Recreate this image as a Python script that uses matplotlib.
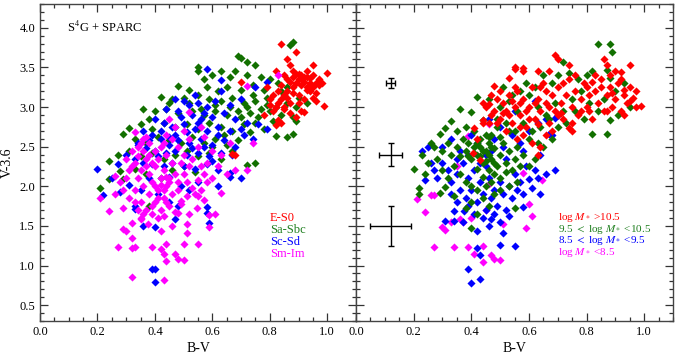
import matplotlib
matplotlib.use("Agg")
import matplotlib.pyplot as plt
from matplotlib.ticker import MultipleLocator

plt.rcParams['font.family'] = ['Liberation Serif', 'DejaVu Serif']
plt.rcParams['mathtext.fontset'] = 'stix'

# ---------------- left panel: morphological types ----------------
left_es0 = [(0.84,3.80),(0.89,3.70),(0.86,3.60),(0.87,3.53),(0.95,3.53),(0.82,3.45),(0.88,3.46),(1.00,3.43),
            (0.91,3.40),(0.93,3.38),(0.90,3.35),(0.92,3.32),(0.94,3.36),(0.96,3.30),(0.97,3.28),(0.95,3.25),
            (0.93,3.22),(0.91,3.28),(0.89,3.30),(0.88,3.25),(0.86,3.20),(0.85,3.15),(0.84,3.10),(0.83,3.05),
            (0.82,3.00),(0.81,2.95),(0.80,3.10),(0.87,3.05),(0.90,3.15),(0.92,3.10),(0.94,3.20),(0.96,3.18),
            (0.98,3.30),(0.97,3.35),(0.95,3.40),(0.93,3.45),(0.90,3.42),(0.88,3.38),(0.86,3.35),(0.84,3.28),
            (0.83,3.20),(0.85,3.00),(0.87,2.92),(0.89,2.88),(0.91,2.95),(0.99,3.01),(0.92,2.94),(0.82,2.77),
            (0.83,2.83),(0.84,2.80),(0.70,3.31),(0.67,2.41),(0.68,2.40),(0.79,3.25),(0.81,3.15),(0.86,3.12),
            (0.88,3.18),(0.93,3.25),(0.95,3.12),(0.90,3.05),(0.96,3.08),(0.85,2.98),(0.80,3.02),(0.78,2.90),
            (0.91,3.36),(0.89,3.42),(0.94,3.30),(0.92,3.38),(0.87,3.32),(0.85,3.40)]

left_sasbc = [(0.88,3.82),(0.87,3.78),(0.69,3.65),(0.70,3.62),(0.72,3.57),(0.75,3.53),(0.55,3.50),(0.55,3.45),
              (0.63,3.45),(0.68,3.45),(0.60,3.40),(0.66,3.38),(0.72,3.40),(0.77,3.38),(0.80,3.35),(0.83,3.30),
              (0.48,3.26),(0.52,3.22),(0.58,3.25),(0.62,3.20),(0.65,3.25),(0.70,3.22),(0.74,3.28),(0.78,3.22),
              (0.84,3.20),(0.42,3.13),(0.46,3.10),(0.50,3.12),(0.55,3.15),(0.59,3.10),(0.63,3.08),(0.67,3.12),
              (0.71,3.05),(0.75,3.08),(0.79,3.02),(0.82,3.00),(0.86,3.05),(0.89,3.00),(0.93,3.05),(0.36,2.98),
              (0.40,2.95),(0.44,2.98),(0.48,2.92),(0.53,2.95),(0.57,2.90),(0.61,2.95),(0.65,2.90),(0.69,2.95),
              (0.73,2.92),(0.77,2.98),(0.80,2.95),(0.84,2.90),(0.88,2.88),(0.31,2.74),(0.35,2.78),(0.39,2.72),
              (0.43,2.80),(0.47,2.75),(0.51,2.78),(0.55,2.72),(0.59,2.80),(0.63,2.75),(0.67,2.70),(0.71,2.78),
              (0.75,2.80),(0.78,2.72),(0.82,2.63),(0.29,2.66),(0.33,2.60),(0.37,2.55),(0.41,2.62),(0.45,2.58),
              (0.49,2.55),(0.53,2.62),(0.57,2.55),(0.61,2.60),(0.65,2.52),(0.69,2.58),(0.86,2.62),(0.88,2.66),
              (0.89,2.82),(0.24,2.32),(0.27,2.40),(0.31,2.45),(0.35,2.38),(0.39,2.42),(0.43,2.35),(0.47,2.40),
              (0.51,2.45),(0.55,2.38),(0.59,2.42),(0.63,2.35),(0.67,2.45),(0.75,2.30),(0.72,2.27),(0.21,1.98),
              (0.24,2.09),(0.29,2.09),(0.28,2.19),(0.33,2.22),(0.37,2.15),(0.42,2.10),(0.46,2.20),(0.50,2.25),
              (0.54,2.18),(0.38,1.75),(0.60,2.50),(0.64,2.65),(0.74,3.15),(0.79,3.12),(0.86,3.25),(0.90,3.12),
              (0.57,3.35),(0.45,3.05),(0.38,2.85),(0.52,3.05),(0.66,3.00),(0.72,3.00),(0.76,2.88),(0.70,2.88),
              (0.61,3.02),(0.56,2.98),(0.81,2.82),(0.73,2.68)]

left_scsd = [(0.58,3.48),(0.63,3.34),(0.79,3.32),(0.75,3.25),(0.47,3.10),(0.50,3.08),(0.52,3.02),(0.55,3.05),
             (0.58,3.00),(0.61,3.08),(0.66,3.02),(0.70,3.10),(0.44,2.98),(0.48,2.95),(0.53,2.90),(0.56,2.85),
             (0.60,2.88),(0.64,2.92),(0.68,2.85),(0.72,2.80),(0.76,2.78),(0.79,2.72),(0.40,2.85),(0.43,2.80),
             (0.46,2.75),(0.50,2.78),(0.54,2.72),(0.58,2.70),(0.62,2.75),(0.66,2.70),(0.70,2.72),(0.36,2.70),
             (0.39,2.65),(0.42,2.60),(0.45,2.62),(0.48,2.58),(0.52,2.55),(0.56,2.60),(0.60,2.52),(0.64,2.58),
             (0.68,2.50),(0.34,2.55),(0.37,2.48),(0.40,2.45),(0.44,2.42),(0.47,2.45),(0.51,2.40),(0.55,2.42),
             (0.59,2.38),(0.63,2.42),(0.67,2.40),(0.30,2.40),(0.33,2.35),(0.36,2.30),(0.39,2.28),(0.43,2.25),
             (0.46,2.30),(0.50,2.25),(0.54,2.22),(0.58,2.28),(0.62,2.20),(0.66,2.17),(0.70,2.10),(0.66,2.12),
             (0.20,2.22),(0.22,1.89),(0.28,1.93),(0.31,2.02),(0.33,1.75),(0.33,1.71),(0.36,1.50),(0.40,1.49),
             (0.39,0.95),(0.40,0.95),(0.40,0.79),(0.58,1.74),(0.58,1.66),(0.59,1.54),(0.47,1.59),(0.41,1.90),
             (0.45,1.80),(0.49,2.00),(0.52,1.95),(0.55,2.05),(0.38,2.10),(0.35,1.95),(0.45,2.12),(0.62,2.00),
             (0.48,1.75),(0.34,2.52),(0.27,2.28),(0.25,2.10),(0.71,2.65),(0.74,2.60),(0.63,3.20),(0.54,3.15),
             (0.42,2.70),(0.60,2.32),(0.57,2.50),(0.49,2.88),(0.51,2.68),(0.45,2.52),(0.41,2.38),(0.53,2.48),
             (0.57,2.92),(0.62,2.65),(0.38,2.58),(0.47,2.65),(0.55,2.80)]

left_smim = [(0.21,1.85),(0.24,1.69),(0.27,1.24),(0.32,0.85),(0.43,0.82),(0.33,1.24),(0.39,1.24),(0.44,1.27),
             (0.44,1.06),(0.47,1.15),(0.48,1.08),(0.50,1.07),(0.50,1.27),(0.55,1.27),(0.51,1.53),(0.59,1.64),
             (0.61,1.65),(0.59,1.49),(0.57,1.83),(0.63,1.92),(0.72,2.20),(0.74,2.54),(0.52,2.94),(0.72,3.27),
             (0.83,3.41),(0.26,2.13),(0.26,1.90),(0.29,1.72),(0.29,1.46),(0.30,1.44),(0.32,1.35),(0.32,1.22),
             (0.32,1.54),(0.35,1.59),(0.375,1.52),(0.42,1.44),(0.42,1.21),(0.43,1.15),(0.46,1.50),(0.48,1.66),
             (0.51,1.41),(0.52,1.65),(0.545,1.72),(0.55,1.88),(0.49,1.82),
             (0.33,2.30),(0.35,2.20),(0.37,2.35),(0.38,2.15),(0.39,2.05),(0.40,2.25),(0.41,1.95),(0.42,2.10),
             (0.43,1.85),(0.44,2.00),(0.45,1.75),(0.40,1.80),(0.38,1.90),(0.36,2.00),(0.34,2.10),(0.42,1.70),
             (0.44,1.80),(0.46,1.90),(0.48,2.05),(0.50,2.15),(0.52,2.25),(0.46,2.30),(0.44,2.40),(0.42,2.50),
             (0.40,2.45),(0.38,2.55),(0.36,2.60),(0.34,2.50),(0.32,2.45),(0.30,2.35),(0.31,2.20),(0.33,1.95),
             (0.35,1.80),(0.37,1.70),(0.39,1.65),(0.41,1.60),(0.43,1.62),(0.47,1.68),(0.49,1.78),(0.51,1.88),
             (0.53,1.98),(0.55,2.08),(0.57,2.15),(0.53,2.35),(0.50,2.40),(0.48,2.50),(0.46,2.60),(0.44,2.65),
             (0.41,2.35),(0.39,2.30),(0.37,2.25),(0.43,2.20),(0.45,2.10),(0.47,2.15),(0.49,2.30),(0.39,1.75),
             (0.41,1.85),(0.43,1.95),(0.45,2.05),(0.40,2.00),(0.42,2.02),(0.44,2.12),(0.38,2.40),(0.36,2.45),
             (0.34,2.38),(0.32,2.25),(0.30,2.10),(0.28,2.05),(0.29,1.95),(0.31,1.85),(0.33,1.80),(0.35,1.60),
             (0.34,1.70),(0.36,1.65),(0.48,1.95),(0.51,2.05),(0.54,1.90),(0.56,1.95),(0.58,2.05),(0.60,2.10),
             (0.56,2.25),(0.58,2.30),(0.62,2.25),(0.65,2.15),(0.68,2.20),(0.60,2.45),(0.55,2.50),(0.52,2.60),
             (0.50,2.70),(0.47,2.75),(0.43,2.55),(0.37,2.62),(0.35,2.55),(0.33,2.68),(0.57,2.62),(0.63,2.40),
             (0.66,2.55),(0.45,2.85),(0.56,2.75)]

# ---------------- right panel: stellar mass bins ----------------
right_m_hi = [(0.69,3.66),(0.70,3.61),(0.74,3.53),(0.67,3.45),(0.63,3.45),(0.58,3.45),(0.55,3.48),(0.53,3.36),
              (0.48,3.26),(0.86,3.61),(0.87,3.53),(0.95,3.53),(0.92,3.44),(0.82,3.32),(0.99,3.01),(0.95,3.08),
              (0.63,2.40),(0.43,2.33),(0.405,2.42),(0.41,2.73),(0.44,2.83),(0.74,2.73),(0.75,2.70),
              (0.45,3.00),(0.47,2.90),(0.49,3.10),(0.50,2.85),(0.51,3.05),(0.52,2.95),(0.53,3.15),(0.54,2.80),
              (0.55,3.00),(0.56,3.20),(0.57,2.90),(0.58,3.10),(0.59,2.75),(0.60,3.00),(0.61,3.25),(0.62,2.85),
              (0.63,3.10),(0.64,2.95),(0.65,3.30),(0.66,3.05),(0.67,2.80),(0.68,3.15),(0.69,2.95),(0.70,3.25),
              (0.71,3.05),(0.72,2.85),(0.73,3.15),(0.74,3.35),(0.75,3.00),(0.76,3.20),(0.77,2.90),(0.78,3.10),
              (0.79,3.30),(0.80,3.00),(0.81,3.15),(0.82,2.85),(0.83,3.20),(0.84,3.05),(0.85,3.35),(0.86,2.95),
              (0.87,3.15),(0.88,3.25),(0.89,3.00),(0.90,3.10),(0.91,3.30),(0.92,2.95),(0.93,3.15),(0.94,3.05),
              (0.95,3.25),(0.96,3.12),(0.97,3.00),(0.88,3.40),(0.90,3.45),(0.92,3.35),(0.85,3.25),(0.83,3.40),
              (0.80,3.25),(0.78,2.95),(0.76,3.40),(0.72,3.30),(0.70,2.90),(0.66,3.20),(0.64,3.25),(0.62,3.05),
              (0.60,2.85),(0.57,3.05),(0.55,3.25),(0.53,2.90),(0.50,3.20),(0.48,2.95),(0.46,2.80),(0.44,3.05),
              (0.58,2.65),(0.61,2.55),(0.64,2.50),(0.52,2.70),(0.66,2.65),(0.68,2.70),(0.56,2.60),(0.75,2.80),
              (0.87,2.95),(0.93,2.90),(0.97,3.20),(0.42,2.60),(0.55,3.50),(0.58,3.49),(0.46,3.04),(0.44,2.80),
              (0.51,2.92),(0.54,3.08),(0.59,2.95),(0.63,2.78),(0.67,3.00),(0.71,2.92),(0.81,2.95),(0.89,3.18),
              (0.93,3.22),(0.49,2.80),(0.47,3.15),(0.57,2.75)]

right_m_mid = [(0.84,3.80),(0.88,3.79),(0.89,3.70),(0.72,3.57),(0.74,3.43),(0.70,3.41),(0.82,3.45),(0.87,3.47),
               (0.88,3.36),(0.95,3.00),(0.88,2.83),(0.87,2.66),(0.82,2.66),(0.59,3.30),(0.42,3.13),(0.36,2.98),
               (0.40,2.94),(0.44,2.83),(0.31,2.73),(0.29,2.66),(0.20,2.22),(0.22,1.98),(0.22,1.90),(0.29,1.92),
               (0.34,1.88),(0.38,1.72),(0.42,1.65),(0.40,1.47),(0.55,1.72),(0.31,1.99),
               (0.46,3.10),(0.50,3.00),(0.53,3.08),(0.56,2.95),(0.60,3.15),(0.63,3.00),(0.66,2.90),(0.69,3.05),
               (0.72,2.95),(0.75,3.10),(0.78,3.20),(0.81,3.05),(0.84,2.95),(0.86,3.10),(0.90,3.20),(0.93,3.30),
               (0.91,2.90),(0.79,2.85),(0.76,2.95),(0.73,2.80),(0.70,2.75),(0.67,2.85),(0.64,2.75),(0.61,2.70),
               (0.58,2.80),(0.55,2.70),(0.52,2.80),(0.49,2.75),(0.47,2.65),(0.65,3.40),(0.68,3.30),(0.62,3.25),
               (0.57,3.20),(0.54,3.15),(0.51,3.25),(0.77,3.35),(0.80,3.40),
               (0.37,2.60),(0.38,2.45),(0.39,2.55),(0.40,2.35),(0.41,2.50),(0.42,2.40),(0.43,2.60),(0.44,2.30),
               (0.45,2.45),(0.46,2.55),(0.47,2.35),(0.48,2.48),(0.49,2.25),(0.50,2.40),(0.51,2.55),(0.52,2.30),
               (0.53,2.45),(0.54,2.20),(0.55,2.35),(0.56,2.50),(0.57,2.25),(0.58,2.40),(0.45,2.65),(0.43,2.50),
               (0.41,2.42),(0.39,2.38),(0.42,2.22),(0.44,2.12),(0.46,2.20),(0.47,2.05),(0.48,2.15),(0.50,2.10),
               (0.52,2.18),(0.36,2.38),(0.35,2.50),(0.34,2.25),(0.33,2.40),(0.32,2.55),(0.30,2.45),(0.28,2.35),
               (0.27,2.50),(0.25,2.30),(0.24,2.15),(0.30,2.20),(0.32,2.10),(0.36,2.15),(0.38,2.05),(0.40,2.00),
               (0.42,1.95),(0.44,1.85),(0.46,1.75),(0.48,1.90),(0.50,1.95),(0.53,2.00),(0.56,2.05),(0.60,2.25),
               (0.62,2.35),(0.65,2.50),(0.68,2.60),(0.60,2.60),(0.63,2.55),(0.38,2.75),(0.35,2.70),(0.33,2.82),
               (0.26,2.55),(0.23,2.40),(0.40,1.80),(0.45,2.00),
               (0.44,2.45),(0.46,2.40),(0.45,2.32),(0.47,2.50),(0.43,2.38),(0.48,2.30),(0.46,2.62),(0.42,2.55),
               (0.50,2.62),(0.53,2.70),(0.49,2.85),(0.41,2.70)]

right_m_low = [(0.24,2.08),(0.39,0.96),(0.40,0.78),(0.43,0.83),(0.42,1.22),(0.43,1.13),(0.50,1.26),(0.55,1.25),
               (0.51,1.41),(0.46,1.50),(0.47,1.59),(0.42,1.44),(0.31,1.56),(0.34,1.56),(0.34,1.69),(0.375,1.69),
               (0.69,2.21),(0.66,2.15),(0.60,2.09),(0.63,2.10),(0.58,1.90),(0.64,1.90),(0.58,1.74),
               (0.30,2.30),(0.26,2.30),(0.32,2.20),(0.33,2.05),(0.35,2.15),(0.36,1.95),(0.37,2.30),(0.38,1.85),
               (0.39,2.10),(0.40,1.95),(0.41,2.20),(0.42,1.80),(0.43,2.05),(0.44,1.90),(0.45,1.70),(0.46,2.10),
               (0.47,1.85),(0.48,1.95),(0.49,1.75),(0.50,2.05),(0.51,1.90),(0.52,1.70),(0.53,2.00),(0.54,1.85),
               (0.55,2.15),(0.56,1.95),(0.57,2.05),(0.59,2.25),(0.61,1.98),(0.62,2.20),(0.44,1.60),(0.41,1.65),
               (0.39,1.75),(0.48,1.65),(0.50,1.55),(0.53,1.62),(0.37,1.55),(0.35,1.80),(0.33,1.90),(0.28,2.10),
               (0.27,2.20),(0.30,2.50),(0.33,2.60),(0.36,2.45),(0.39,2.40),(0.42,2.55),(0.45,2.40),(0.48,2.60),
               (0.51,2.50),(0.54,2.65),(0.57,2.55),(0.60,2.70),(0.63,2.80),(0.66,2.85),(0.70,2.90),(0.55,2.95),
               (0.46,2.85),(0.50,2.75),(0.40,2.65),(0.35,2.35),(0.23,2.45),(0.25,2.50),(0.45,2.25),(0.52,2.35),
               (0.58,2.45),(0.64,2.40),(0.68,2.65),(0.62,3.08),(0.47,2.45),(0.43,2.30),(0.67,2.66),(0.69,2.86)]

right_m_vlow = [(0.21,1.84),(0.24,1.68),(0.26,1.89),(0.27,1.89),(0.30,1.49),(0.31,1.45),(0.27,1.23),(0.34,1.24),
                (0.39,1.24),(0.36,1.59),(0.37,1.55),(0.44,1.25),(0.41,1.14),(0.44,1.04),(0.47,1.13),(0.48,1.08),
                (0.50,1.07),(0.51,1.52),(0.59,1.47),(0.58,2.17),(0.46,2.03),(0.35,2.26),(0.60,1.78),(0.645,2.08),
                (0.61,1.63),(0.39,2.64),(0.46,2.78),(0.40,1.60),(0.45,1.70),(0.33,1.55)]

# typical error bars (right panel)
err_x = [0.12, 0.12, 0.12]
err_y = [3.30, 2.40, 1.50]
err_dx = [0.017, 0.04, 0.07]
err_dy = [0.06, 0.15, 0.25]

left_labels = ["E-S0", "Sa-Sbc", "Sc-Sd", "Sm-Im"]
right_labels = [r"log $M_*$ >10.5", r"9.5 $<$ log $M_*$ <10.5",
                r"8.5 $<$ log $M_*$ <9.5", r"log $M_*$ <8.5"]

RED, GREEN, BLUE, MAG = '#ff0000', '#127000', '#0000ff', '#ff00ff'
TXT_GREEN = '#1f7f1f'

fig = plt.figure(figsize=(6.77, 3.55), dpi=100)
W, H = 677, 355
axL = fig.add_axes([40 / W, 1 - 321 / H, 316 / W, 317 / H])
axR = fig.add_axes([356 / W, 1 - 321 / H, 317 / W, 317 / H])

MS = 17


def sc(ax, pts, color):
    xs = [p[0] for p in pts]
    ys = [p[1] for p in pts]
    ax.scatter(xs, ys, s=MS, marker='D', color=color, linewidths=0, zorder=3)


sc(axL, left_sasbc, GREEN)
sc(axL, left_scsd, BLUE)
sc(axL, left_es0, RED)
sc(axL, left_smim, MAG)

sc(axR, right_m_vlow, MAG)
sc(axR, right_m_low, BLUE)
sc(axR, right_m_mid, GREEN)
sc(axR, right_m_hi, RED)

axR.errorbar(err_x, err_y, xerr=err_dx, yerr=err_dy, fmt='none', ecolor='black',
             elinewidth=1.0, capsize=2.5, capthick=1.0, zorder=4)

for ax in (axL, axR):
    ax.set_xlim(0, 1.1)
    ax.set_ylim(0.3, 4.3)
    ax.xaxis.set_major_locator(MultipleLocator(0.2))
    ax.xaxis.set_minor_locator(MultipleLocator(0.05))
    ax.yaxis.set_major_locator(MultipleLocator(0.5))
    ax.yaxis.set_minor_locator(MultipleLocator(0.1))
    ax.tick_params(which='both', direction='in', top=True, right=True, labelsize=9,
                   color='#333333', width=0.9)
    ax.tick_params(which='major', length=6)
    ax.tick_params(which='minor', length=3)
    for s in ax.spines.values():
        s.set_color('#444444')
        s.set_linewidth(1.0)
    ax.set_xlabel("B-V", fontsize=10, labelpad=3)
    ax.set_xticks([0.0, 0.2, 0.4, 0.6, 0.8, 1.0])
    ax.set_xticklabels(["0.0", "0.2", "0.4", "0.6", "0.8", "1.0"])

axL.set_ylabel("V-3.6", fontsize=10, labelpad=4)
axR.tick_params(labelleft=False)
axL.text(0.095, 4.0, r"S$^4$G + SPARC", fontsize=9, va='center', ha='left')

for lab, col, y in zip(left_labels, [RED, TXT_GREEN, BLUE, MAG], [1.60, 1.45, 1.30, 1.15]):
    axL.text(0.80, y, lab, color=col, fontsize=9, va='center', ha='left')

for lab, col, y in zip(right_labels, [RED, TXT_GREEN, BLUE, MAG], [1.61, 1.46, 1.31, 1.16]):
    axR.text(0.70, y, lab, color=col, fontsize=8, va='center', ha='left')

fig.savefig("out.png", dpi=100)
